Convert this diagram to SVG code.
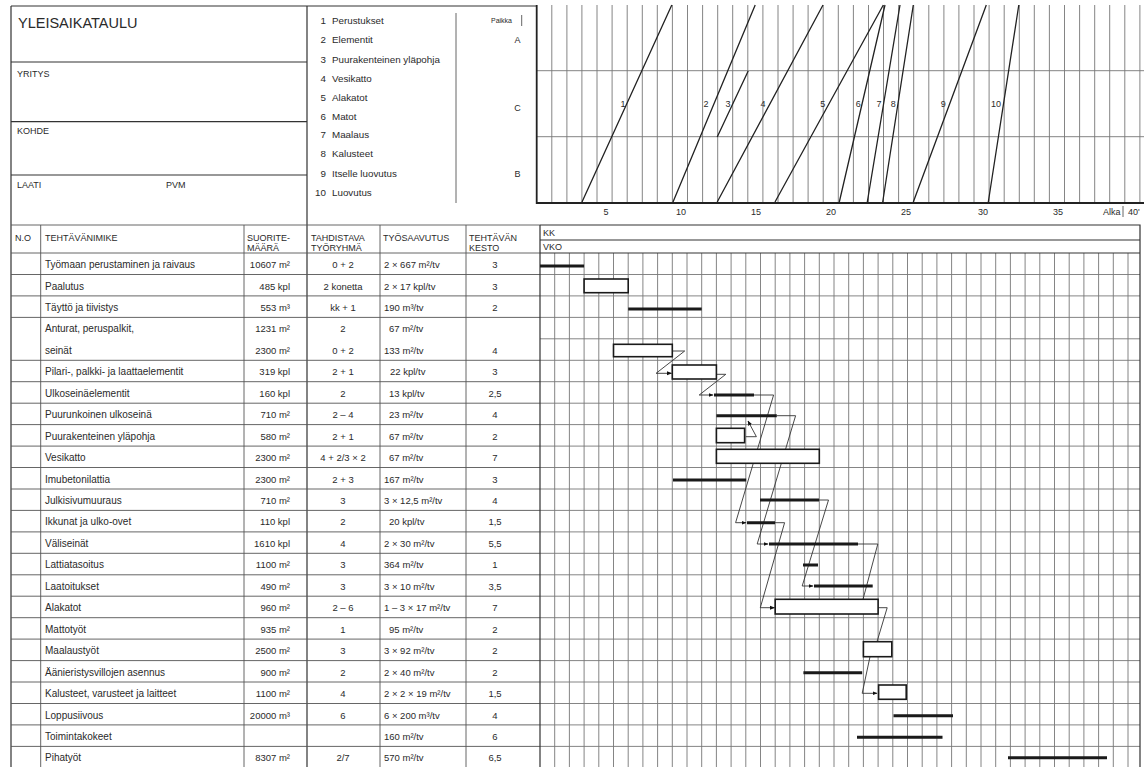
<svg xmlns="http://www.w3.org/2000/svg" width="1144" height="767" viewBox="0 0 1144 767">
<defs>
<style>
text{font-family:"Liberation Sans",Arial,sans-serif;fill:#2a2a2a}
.t{font-size:9.5px}
.n{font-size:10px}
.s{font-size:9px}
.lg{font-size:9.8px}
.h{font-size:9px}
.c{text-anchor:middle}
.r{text-anchor:end}
.fr{fill:none;stroke:#333;stroke-width:1.2}
.grid{fill:none;stroke:#777;stroke-width:0.9}
.tl{fill:none;stroke:#555;stroke-width:0.9}
.sl{fill:none;stroke:#222;stroke-width:1.3}
.bar{stroke:#1a1a1a;stroke-width:3;fill:none}
.box{fill:#fff;stroke:#1a1a1a;stroke-width:1.6}
.con{fill:none;stroke:#333;stroke-width:0.9}
</style>
<marker id="ah" viewBox="0 0 10 10" refX="9" refY="5" markerWidth="5" markerHeight="5" orient="auto" markerUnits="userSpaceOnUse"><path d="M0,1 L10,5 L0,9 z" fill="#111"/></marker>
</defs>
<rect width="1144" height="767" fill="#fff"/>

<g id="header-box">
<path class="fr" d="M11,6 H537 M11,6 V767 M307,6 V767 M11,62 H307 M11,121.7 H307 M11,175 H307"/>
<text x="18" y="27.5" style="font-size:14.5px">YLEISAIKATAULU</text>
<text class="s" x="17" y="77">YRITYS</text>
<text class="s" x="17" y="134">KOHDE</text>
<text class="s" x="17" y="188">LAATI</text>
<text class="s" x="166" y="188">PVM</text>
</g>

<g id="legend">
<path class="tl" d="M456,13 V203"/>
<g class="lg">
<text class="r" x="326" y="24">1</text><text x="332" y="24">Perustukset</text>
<text class="r" x="326" y="42.6">2</text><text x="332" y="42.6">Elementit</text>
<text class="r" x="326" y="62.6">3</text><text x="332" y="62.6">Puurakenteinen yläpohja</text>
<text class="r" x="326" y="81.6">4</text><text x="332" y="81.6">Vesikatto</text>
<text class="r" x="326" y="100.6">5</text><text x="332" y="100.6">Alakatot</text>
<text class="r" x="326" y="120">6</text><text x="332" y="120">Matot</text>
<text class="r" x="326" y="138.3">7</text><text x="332" y="138.3">Maalaus</text>
<text class="r" x="326" y="157.3">8</text><text x="332" y="157.3">Kalusteet</text>
<text class="r" x="326" y="176.6">9</text><text x="332" y="176.6">Itselle luovutus</text>
<text class="r" x="326" y="196">10</text><text x="332" y="196">Luovutus</text>
</g>
<text x="491" y="23" style="font-size:7px">Paikka</text>
<path class="tl" d="M521.7,15 V26"/>
<text class="s c" x="517.5" y="42.5">A</text>
<text class="s c" x="517.5" y="110.5">C</text>
<text class="s c" x="517.5" y="176.5">B</text>
</g>

<g id="location-graph">
<path class="grid" d="M551.8,5V203M566.9,5V203M581.9,5V203M597,5V203M612.1,5V203M627.2,5V203M642.3,5V203M657.3,5V203M672.4,5V203M687.5,5V203M702.6,5V203M717.7,5V203M732.7,5V203M747.8,5V203M762.9,5V203M778,5V203M793.1,5V203M808.1,5V203M823.2,5V203M838.3,5V203M853.4,5V203M868.5,5V203M883.5,5V203M898.6,5V203M913.7,5V203M928.8,5V203M943.9,5V203M958.9,5V203M974,5V203M989.1,5V203M1004.2,5V203M1019.3,5V203M1034.3,5V203M1049.4,5V203M1064.5,5V203M1079.6,5V203M1094.7,5V203M1109.7,5V203M1124.8,5V203M1139.9,5V203 M536.7,70.7H1144 M536.7,136.7H1144"/>
<path d="M536.7,5 V203 H1144" fill="none" stroke="#222" stroke-width="1.8"/>
<path class="sl" d="M582,202 L671.8,5 M673,202 L755.2,5 M717.2,137 L748.2,71 M717.2,202 L823,5 M775,202 L883.3,5 M839.3,202 L885,5 M867.3,202 L900,5 M882.7,202 L913.3,5 M913.3,202 L986.3,5 M988.3,202 L1018.8,5"/>
<g class="h c">
<text x="623" y="106.5">1</text><text x="706" y="106.5">2</text><text x="728" y="106.5">3</text><text x="763" y="106.5">4</text><text x="822.7" y="106.5">5</text><text x="858.3" y="106.5">6</text><text x="879" y="106.5">7</text><text x="893.3" y="106.5">8</text><text x="943.3" y="106.5">9</text><text x="996" y="106.5">10</text>
</g>
<g class="s c">
<text x="606" y="215">5</text><text x="681" y="215">10</text><text x="756" y="215">15</text><text x="831" y="215">20</text><text x="906" y="215">25</text><text x="983" y="215">30</text><text x="1058" y="215">35</text>
</g>
<text class="s" x="1103" y="215">Alka</text>
<path class="tl" d="M1123,206 V217"/>
<text class="s" x="1128" y="215">40'</text>
</g>

<g id="table">
<path class="tl" d="M11,225H540 M11,253H540 M11,274.5H540 M11,295.9H540 M11,317.4H540 M11,360.3H540 M11,381.7H540 M11,403.2H540 M11,424.6H540 M11,446.1H540 M11,467.5H540 M11,489H540 M11,510.4H540 M11,531.9H540 M11,553.3H540 M11,574.8H540 M11,596.2H540 M11,617.7H540 M11,639.1H540 M11,660.6H540 M11,682H540 M11,703.5H540 M11,724.9H540 M11,746.4H540 M40.7,225V767 M244,225V767 M380,225V767 M466,225V767"/>
<g class="s">
<text x="15" y="241">N.O</text>
<text x="45" y="241">TEHTÄVÄNIMIKE</text>
<text x="247" y="241">SUORITE-</text><text x="247" y="251">MÄÄRÄ</text>
<text x="311" y="241">TAHDISTAVA</text><text x="311" y="251">TYÖRYHMÄ</text>
<text x="383" y="241">TYÖSAAVUTUS</text>
<text x="469" y="241">TEHTÄVÄN</text><text x="469" y="251">KESTO</text>
</g>
<g class="n">
<text x="45" y="268">Työmaan perustaminen ja raivaus</text>
<text x="45" y="289.5">Paalutus</text>
<text x="45" y="310.9">Täyttö ja tiivistys</text>
<text x="45" y="332.4">Anturat, peruspalkit,</text>
<text x="45" y="353.8">seinät</text>
<text x="45" y="375.3">Pilari-, palkki- ja laattaelementit</text>
<text x="45" y="396.7">Ulkoseinäelementit</text>
<text x="45" y="418.2">Puurunkoinen ulkoseinä</text>
<text x="45" y="439.6">Puurakenteinen yläpohja</text>
<text x="45" y="461.1">Vesikatto</text>
<text x="45" y="482.5">Imubetonilattia</text>
<text x="45" y="504">Julkisivumuuraus</text>
<text x="45" y="525.4">Ikkunat ja ulko-ovet</text>
<text x="45" y="546.9">Väliseinät</text>
<text x="45" y="568.3">Lattiatasoitus</text>
<text x="45" y="589.8">Laatoitukset</text>
<text x="45" y="611.2">Alakatot</text>
<text x="45" y="632.7">Mattotyöt</text>
<text x="45" y="654.1">Maalaustyöt</text>
<text x="45" y="675.6">Äänieristysvillojen asennus</text>
<text x="45" y="697">Kalusteet, varusteet ja laitteet</text>
<text x="45" y="718.5">Loppusiivous</text>
<text x="45" y="739.9">Toimintakokeet</text>
<text x="45" y="761.4">Pihatyöt</text>
</g>
<g class="t r">
<text x="290" y="268">10607 m²</text>
<text x="290" y="289.5">485 kpl</text>
<text x="290" y="310.9">553 m³</text>
<text x="290" y="332.4">1231 m²</text>
<text x="290" y="353.8">2300 m²</text>
<text x="290" y="375.3">319 kpl</text>
<text x="290" y="396.7">160 kpl</text>
<text x="290" y="418.2">710 m²</text>
<text x="290" y="439.6">580 m²</text>
<text x="290" y="461.1">2300 m²</text>
<text x="290" y="482.5">2300 m²</text>
<text x="290" y="504">710 m²</text>
<text x="290" y="525.4">110 kpl</text>
<text x="290" y="546.9">1610 kpl</text>
<text x="290" y="568.3">1100 m²</text>
<text x="290" y="589.8">490 m²</text>
<text x="290" y="611.2">960 m²</text>
<text x="290" y="632.7">935 m²</text>
<text x="290" y="654.1">2500 m²</text>
<text x="290" y="675.6">900 m²</text>
<text x="290" y="697">1100 m²</text>
<text x="290" y="718.5">20000 m³</text>
<text x="290" y="761.4">8307 m²</text>
</g>
<g class="t c">
<text x="343" y="268">0 + 2</text>
<text x="343" y="289.5">2 konetta</text>
<text x="343" y="310.9">kk + 1</text>
<text x="343" y="332.4">2</text>
<text x="343" y="353.8">0 + 2</text>
<text x="343" y="375.3">2 + 1</text>
<text x="343" y="396.7">2</text>
<text x="343" y="418.2">2 – 4</text>
<text x="343" y="439.6">2 + 1</text>
<text x="343" y="461.1">4 + 2/3 × 2</text>
<text x="343" y="482.5">2 + 3</text>
<text x="343" y="504">3</text>
<text x="343" y="525.4">2</text>
<text x="343" y="546.9">4</text>
<text x="343" y="568.3">3</text>
<text x="343" y="589.8">3</text>
<text x="343" y="611.2">2 – 6</text>
<text x="343" y="632.7">1</text>
<text x="343" y="654.1">3</text>
<text x="343" y="675.6">2</text>
<text x="343" y="697">4</text>
<text x="343" y="718.5">6</text>
<text x="343" y="761.4">2/7</text>
</g>
<g class="t">
<text x="384" y="268">2 × 667 m²/tv</text>
<text x="384" y="289.5">2 × 17 kpl/tv</text>
<text x="384" y="310.9">190 m³/tv</text>
<text x="389" y="332.4">67 m²/tv</text>
<text x="384" y="353.8">133 m²/tv</text>
<text x="390" y="375.3">22 kpl/tv</text>
<text x="389" y="396.7">13 kpl/tv</text>
<text x="389" y="418.2">23 m²/tv</text>
<text x="389" y="439.6">67 m²/tv</text>
<text x="389" y="461.1">67 m²/tv</text>
<text x="384" y="482.5">167 m²/tv</text>
<text x="384" y="504">3 × 12,5 m²/tv</text>
<text x="389" y="525.4">20 kpl/tv</text>
<text x="384" y="546.9">2 × 30 m²/tv</text>
<text x="384" y="568.3">364 m²/tv</text>
<text x="384" y="589.8">3 × 10 m²/tv</text>
<text x="384" y="611.2">1 – 3 × 17 m²/tv</text>
<text x="389" y="632.7">95 m²/tv</text>
<text x="384" y="654.1">3 × 92 m²/tv</text>
<text x="384" y="675.6">2 × 40 m²/tv</text>
<text x="384" y="697">2 × 2 × 19 m²/tv</text>
<text x="384" y="718.5">6 × 200 m³/tv</text>
<text x="384" y="739.9">160 m²/tv</text>
<text x="384" y="761.4">570 m²/tv</text>
</g>
<g class="t c">
<text x="495" y="268">3</text>
<text x="495" y="289.5">3</text>
<text x="495" y="310.9">2</text>
<text x="495" y="353.8">4</text>
<text x="495" y="375.3">3</text>
<text x="495" y="396.7">2,5</text>
<text x="495" y="418.2">4</text>
<text x="495" y="439.6">2</text>
<text x="495" y="461.1">7</text>
<text x="495" y="482.5">3</text>
<text x="495" y="504">4</text>
<text x="495" y="525.4">1,5</text>
<text x="495" y="546.9">5,5</text>
<text x="495" y="568.3">1</text>
<text x="495" y="589.8">3,5</text>
<text x="495" y="611.2">7</text>
<text x="495" y="632.7">2</text>
<text x="495" y="654.1">2</text>
<text x="495" y="675.6">2</text>
<text x="495" y="697">1,5</text>
<text x="495" y="718.5">4</text>
<text x="495" y="739.9">6</text>
<text x="495" y="761.4">6,5</text>
</g>
</g>

<g id="gantt-grid">
<path class="grid" d="M554.7,253V767M569.4,253V767M584.1,253V767M598.8,253V767M613.5,253V767M628.2,253V767M642.9,253V767M657.6,253V767M672.3,253V767M687,253V767M701.7,253V767M716.4,253V767M731.1,253V767M745.8,253V767M760.5,253V767M775.2,253V767M789.9,253V767M804.6,253V767M819.3,253V767M834,253V767M848.7,253V767M863.4,253V767M878.1,253V767M892.8,253V767M907.5,253V767M922.2,253V767M936.9,253V767M951.6,253V767M966.3,253V767M981,253V767M995.7,253V767M1010.4,253V767M1025.1,253V767M1039.8,253V767M1054.5,253V767M1069.2,253V767M1083.9,253V767M1098.6,253V767M1113.3,253V767M1128,253V767 M540,274.5H1140 M540,295.9H1140 M540,317.4H1140 M540,338.8H1140 M540,360.3H1140 M540,381.7H1140 M540,403.2H1140 M540,424.6H1140 M540,446.1H1140 M540,467.5H1140 M540,489H1140 M540,510.4H1140 M540,531.9H1140 M540,553.3H1140 M540,574.8H1140 M540,596.2H1140 M540,617.7H1140 M540,639.1H1140 M540,660.6H1140 M540,682H1140 M540,703.5H1140 M540,724.9H1140 M540,746.4H1140"/>
<path class="fr" d="M540,225 H1140 V767 M540,225 V767 M540,240 H1140 M540,253 H1140"/>
<text class="s" x="543" y="236">KK</text>
<text class="s" x="543" y="250">VKO</text>
</g>

<g id="connectors">
<polyline class="con" points="671.8,351 684.7,351 656.1,373.3 671.5,373.3" marker-end="url(#ah)"/>
<polyline class="con" points="716.4,374.3 725.8,374.3 699.2,395 713,395" marker-end="url(#ah)"/>
<polyline class="con" points="754,395 773.6,395 735.6,522.7 746,522.7" marker-end="url(#ah)"/>
<polyline class="con" points="776.8,415.7 795.6,415.7 757.2,544 768,544" marker-end="url(#ah)"/>
<polyline class="con" points="745.8,436.7 756.4,436.7 748,421" marker-end="url(#ah)"/>
<polyline class="con" points="819,500 828.5,500 802.2,586 813,586" marker-end="url(#ah)"/>
<polyline class="con" points="775,522.7 784.6,522.7 760.3,607.7 774.5,607.7" marker-end="url(#ah)"/>
<polyline class="con" points="858,544 877.8,544 863,599.3"/>
<polyline class="con" points="878.1,607.7 887.2,607.7 877,641.7"/>
<polyline class="con" points="870,656.7 862.2,693.3 877,693.3" marker-end="url(#ah)"/>
</g>

<g id="task-bars">
<path class="bar" d="M540,266H584.1 M628.2,309H701.7 M714,395H754 M716.4,415.7H776.8 M673,480H746.2 M760,500H819 M747,522.7H775 M769,544H858 M803,565H818 M814,586H872.7 M803.4,672.7H862.2 M893.5,715.7H953 M857,737.3H942.5 M1008,757.7H1107"/>
</g>
<g id="task-boxes">
<rect class="box" x="584.1" y="279" width="44.1" height="13.7"/>
<rect class="box" x="613.5" y="344.3" width="58.8" height="12.4"/>
<rect class="box" x="672.3" y="365" width="44.1" height="14"/>
<rect class="box" x="716.4" y="428.3" width="28.2" height="14.4"/>
<rect class="box" x="716.4" y="449.3" width="102.9" height="14"/>
<rect class="box" x="775.2" y="599.3" width="102.9" height="14.7"/>
<rect class="box" x="863.4" y="641.7" width="28.4" height="15"/>
<rect class="box" x="878.6" y="685" width="27.6" height="14.3"/>
</g>
</svg>
